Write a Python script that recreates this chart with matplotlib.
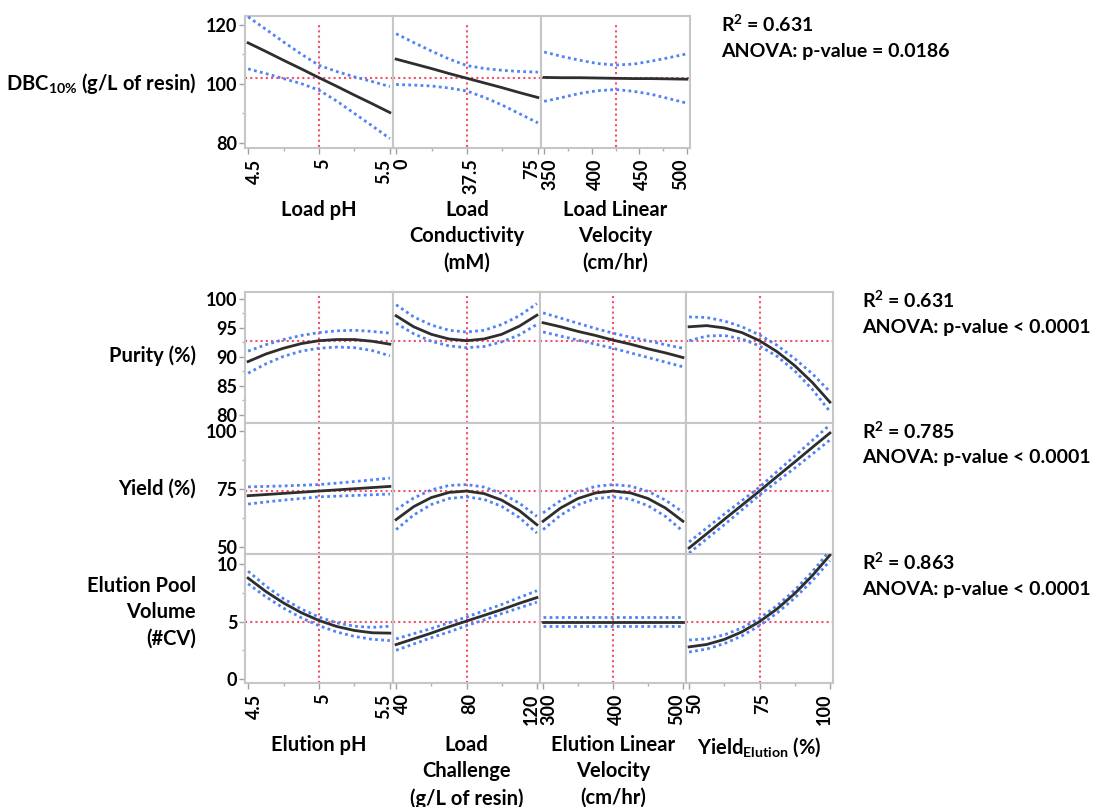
import matplotlib.pyplot as plt
from matplotlib.ticker import FixedLocator
from matplotlib.transforms import ScaledTranslation

# ============================================================
# FONTS / STYLE
# ============================================================
plt.rcParams["font.family"] = ["Lato", "DejaVu Sans"]
plt.rcParams["font.weight"] = "bold"
plt.rcParams["mathtext.fontset"] = "custom"
plt.rcParams["mathtext.rm"] = "Lato:bold"
plt.rcParams["mathtext.it"] = "Lato:bold"
plt.rcParams["mathtext.bf"] = "Lato:bold"

FIG_W, FIG_H = 1095, 807
FIT_COLOR = "#2e2e2e"
CI_COLOR = "#4f82f7"
REF_COLOR = "#f2506a"
FRAME_COLOR = "#c6c6c6"
TICK_FS = 13
LABEL_FS = 14.5
STAT_FS = 14

# ============================================================
# DATA - load step (DBC 10%)
# ============================================================
LOAD_FACTORS = ["Load pH", "Load\nConductivity\n(mM)", "Load Linear\nVelocity\n(cm/hr)"]
LOAD_X = [
    [4.5, 4.625, 4.75, 4.875, 5.0, 5.125, 5.25, 5.375, 5.5],
    [0, 9.375, 18.75, 28.125, 37.5, 46.875, 56.25, 65.625, 75],
    [350, 368.75, 387.5, 406.25, 425, 443.75, 462.5, 481.25, 500],
]
LOAD_CENTER = [5.0, 37.5, 425]
LOAD_TICKS = [[4.5, 5, 5.5], [0, 37.5, 75], [350, 400, 450, 500]]
LOAD_TICKLABELS = [["4.5", "5", "5.5"], ["0", "37.5", "75"], ["350", "400", "450", "500"]]

DBC_FIT = [
    [113.9, 111.0, 108.0, 105.1, 102.1, 99.2, 96.2, 93.3, 90.3],
    [108.4, 106.8, 105.2, 103.5, 101.9, 100.3, 98.7, 97.0, 95.4],
    [102.2, 102.1, 102.1, 102.0, 101.9, 101.8, 101.8, 101.7, 101.6],
]
DBC_UPPER = [
    [122.7, 118.5, 114.2, 110.1, 106.3, 104.2, 102.4, 100.8, 99.1],
    [117.0, 114.0, 111.1, 108.4, 106.2, 105.2, 104.6, 104.2, 104.0],
    [110.8, 109.3, 108.0, 106.9, 106.4, 106.7, 107.7, 108.9, 110.2],
]
DBC_LOWER = [
    [105.1, 103.5, 101.8, 100.1, 97.9, 94.2, 90.0, 85.8, 81.5],
    [99.8, 99.6, 99.3, 98.6, 97.6, 95.4, 92.8, 89.8, 86.8],
    [94.1, 95.4, 96.8, 97.7, 98.1, 97.5, 96.5, 95.0, 93.5],
]
DBC_MEAN = 101.9

# ============================================================
# DATA - elution step (Purity, Yield, Elution Pool Volume)
# ============================================================
ELU_FACTORS = ["Elution pH", "Load\nChallenge\n(g/L of resin)",
               "Elution Linear\nVelocity\n(cm/hr)", r"Yield$_{\mathrm{Elution}}$ (%)"]
ELU_X = [
    [4.5, 4.625, 4.75, 4.875, 5.0, 5.125, 5.25, 5.375, 5.5],
    [40, 50, 60, 70, 80, 90, 100, 110, 120],
    [300, 325, 350, 375, 400, 425, 450, 475, 500],
    [50, 56.25, 62.5, 68.75, 75, 81.25, 87.5, 93.75, 100],
]
ELU_CENTER = [5.0, 80, 400, 75]
ELU_TICKS = [[4.5, 5, 5.5], [40, 80, 120], [300, 400, 500], [50, 75, 100]]
ELU_TICKLABELS = [["4.5", "5", "5.5"], ["40", "80", "120"], ["300", "400", "500"], ["50", "75", "100"]]

PURITY_FIT = [
    [89.2, 90.5, 91.5, 92.3, 92.8, 93.0, 93.0, 92.7, 92.2],
    [97.1, 95.2, 93.9, 93.1, 92.8, 93.1, 93.9, 95.3, 97.2],
    [95.9, 95.2, 94.4, 93.7, 92.9, 92.2, 91.4, 90.7, 89.9],
    [95.2, 95.4, 95.0, 94.2, 92.8, 90.9, 88.5, 85.6, 82.2],
]
PURITY_UPPER = [
    [91.0, 92.1, 93.0, 93.7, 94.2, 94.5, 94.6, 94.4, 94.1],
    [99.0, 96.9, 95.5, 94.6, 94.3, 94.6, 95.6, 97.1, 99.2],
    [97.6, 96.7, 95.8, 94.9, 94.1, 93.4, 92.8, 92.1, 91.5],
    [96.9, 96.8, 96.2, 95.2, 93.8, 92.0, 89.7, 87.1, 84.0],
]
PURITY_LOWER = [
    [87.2, 88.8, 90.1, 91.0, 91.5, 91.7, 91.6, 91.1, 90.2],
    [95.8, 94.0, 92.7, 91.9, 91.6, 91.8, 92.6, 93.8, 95.6],
    [94.3, 93.6, 92.9, 92.2, 91.5, 90.7, 89.9, 89.1, 88.3],
    [92.8, 93.6, 93.7, 93.1, 91.9, 90.1, 87.6, 84.4, 80.6],
]
PURITY_MEAN = 92.8

YIELD_FIT = [
    [72.1, 72.6, 73.1, 73.6, 74.1, 74.6, 75.1, 75.6, 76.1],
    [61.8, 67.4, 71.3, 73.5, 74.1, 73.0, 70.2, 65.7, 59.6],
    [61.1, 66.8, 70.9, 73.3, 74.1, 73.3, 70.9, 66.8, 61.1],
    [49.6, 55.7, 61.9, 68.0, 74.1, 80.4, 86.6, 92.9, 99.1],
]
YIELD_UPPER = [
    [75.9, 76.1, 76.3, 76.6, 76.9, 77.5, 78.2, 78.9, 79.7],
    [66.1, 71.1, 74.6, 76.5, 76.9, 75.8, 73.1, 68.9, 63.2],
    [64.7, 70.0, 73.8, 76.1, 76.9, 76.2, 74.0, 70.2, 65.0],
    [52.2, 58.2, 64.2, 70.0, 75.8, 82.5, 89.2, 95.9, 102.6],
]
YIELD_LOWER = [
    [68.5, 69.4, 70.2, 70.9, 71.6, 71.9, 72.2, 72.5, 72.8],
    [57.5, 63.8, 68.3, 70.9, 71.6, 70.5, 67.5, 62.7, 56.0],
    [57.5, 63.7, 68.2, 70.8, 71.6, 70.6, 67.8, 63.2, 56.8],
    [47.4, 53.5, 59.6, 66.0, 72.4, 78.2, 84.0, 90.0, 96.1],
]
YIELD_MEAN = 74.0

EPV_FIT = [
    [8.8, 7.63, 6.63, 5.78, 5.1, 4.58, 4.23, 4.03, 4.0],
    [3.0, 3.5, 4.0, 4.55, 5.05, 5.55, 6.05, 6.6, 7.1],
    [5.0, 5.0, 5.0, 5.0, 5.0, 5.0, 5.0, 5.0, 5.0],
    [2.8, 3.01, 3.45, 4.11, 5.0, 6.11, 7.45, 9.01, 10.8],
]
EPV_UPPER = [
    [9.4, 8.1, 7.0, 6.1, 5.4, 4.9, 4.6, 4.5, 4.6],
    [3.5, 3.95, 4.4, 4.9, 5.4, 5.95, 6.5, 7.1, 7.7],
    [5.4, 5.4, 5.4, 5.4, 5.4, 5.4, 5.4, 5.4, 5.4],
    [3.4, 3.5, 3.85, 4.45, 5.3, 6.4, 7.75, 9.35, 11.2],
]
EPV_LOWER = [
    [8.3, 7.17, 6.18, 5.34, 4.65, 4.1, 3.71, 3.46, 3.35],
    [2.5, 3.05, 3.6, 4.1, 4.65, 5.15, 5.7, 6.2, 6.7],
    [4.65, 4.65, 4.65, 4.65, 4.65, 4.65, 4.65, 4.65, 4.65],
    [2.35, 2.61, 3.08, 3.76, 4.65, 5.75, 7.06, 8.57, 10.3],
]
EPV_MEAN = 5.0

ROW_LABELS = ["Purity (%)", "Yield (%)", "Elution Pool\nVolume\n(#CV)"]
ROW_YLIM = [(78.6, 101.2), (47.0, 103.4), (-0.35, 10.9)]
ROW_YTICKS = [[80, 85, 90, 95, 100], [50, 75, 100], [0, 5, 10]]
ROW_YMINOR = [[82.5, 87.5, 92.5, 97.5], [62.5, 87.5], [2.5, 7.5]]

STATS_TOP = [r"R$^{\mathrm{2}}$ = 0.631", "ANOVA: p-value = 0.0186"]
STATS_ROWS = [
    [r"R$^{\mathrm{2}}$ = 0.631", "ANOVA: p-value < 0.0001"],
    [r"R$^{\mathrm{2}}$ = 0.785", "ANOVA: p-value < 0.0001"],
    [r"R$^{\mathrm{2}}$ = 0.863", "ANOVA: p-value < 0.0001"],
]

# ============================================================
# HELPERS
# ============================================================
fig = plt.figure(figsize=(FIG_W / 100, FIG_H / 100), dpi=100)


def px_axes(x0, y0, x1, y1):
    """Add axes from pixel box (top-left origin)."""
    return fig.add_axes([x0 / FIG_W, 1 - y1 / FIG_H, (x1 - x0) / FIG_W, (y1 - y0) / FIG_H])


def px_text(x, y, s, **kw):
    return fig.text(x / FIG_W, 1 - y / FIG_H, s, **kw)


def draw_panel(ax, xs, fit, up, lo, center, mean, vspan=(0.0, 1.0)):
    ax.plot(xs, up, color=CI_COLOR, lw=2.0, ls=(0, (1, 1.2)), zorder=3)
    ax.plot(xs, lo, color=CI_COLOR, lw=2.0, ls=(0, (1, 1.2)), zorder=3)
    ax.plot(xs, fit, color=FIT_COLOR, lw=2.0, zorder=4)
    ax.axhline(mean, color=REF_COLOR, lw=1.5, ls=(0, (1, 1.5)), zorder=2)
    ax.axvline(center, ymin=vspan[0], ymax=vspan[1], color=REF_COLOR, lw=1.5,
               ls=(0, (1, 1.5)), zorder=2)
    pad = (xs[-1] - xs[0]) * 0.022
    ax.set_xlim(xs[0] - pad, xs[-1] + pad)
    for sp in ax.spines.values():
        sp.set_color(FRAME_COLOR)
        sp.set_linewidth(1.5)
    ax.tick_params(colors="#a0a0a0", labelcolor="black", length=4, width=1)
    ax.tick_params(which="minor", colors="#b0b0b0", length=2.5, width=1)


def set_xticks(ax, ticks, labels):
    ax.xaxis.set_major_locator(FixedLocator(ticks))
    minor = [(a + b) / 2 for a, b in zip(ticks[:-1], ticks[1:])]
    ax.xaxis.set_minor_locator(FixedLocator(minor))
    ax.set_xticklabels(labels, rotation=90, fontsize=TICK_FS, fontweight="bold")
    # edge labels are pulled inside the panel, inner ones nudged right
    lbls = ax.get_xticklabels()
    for k, lbl in enumerate(lbls):
        if k == 0:
            dx = 0.06
        elif k == len(lbls) - 1:
            dx = -0.06
        else:
            dx = 0.035
        lbl.set_transform(lbl.get_transform() + ScaledTranslation(dx, 0, fig.dpi_scale_trans))


def set_yticks(ax, ticks, minor):
    ax.yaxis.set_major_locator(FixedLocator(ticks))
    ax.yaxis.set_minor_locator(FixedLocator(minor))
    ax.set_yticklabels([str(t) for t in ticks], fontsize=TICK_FS, fontweight="bold")
    ax.tick_params(axis="y", pad=1.5)


# ============================================================
# TOP BLOCK - DBC
# ============================================================
top_cols = [(245, 393), (393, 541), (541, 690)]
for i, (x0, x1) in enumerate(top_cols):
    ax = px_axes(x0, 16, x1, 148)
    draw_panel(ax, LOAD_X[i], DBC_FIT[i], DBC_UPPER[i], DBC_LOWER[i],
               LOAD_CENTER[i], DBC_MEAN, vspan=(0.01, 0.955))
    ax.set_ylim(78.3, 123.0)
    set_xticks(ax, LOAD_TICKS[i], LOAD_TICKLABELS[i])
    if i == 0:
        set_yticks(ax, [80, 100, 120], [90, 110])
    else:
        ax.set_yticks([])
    px_text((x0 + x1) / 2, 200, LOAD_FACTORS[i], ha="center", va="top",
            fontsize=LABEL_FS, fontweight="bold", linespacing=1.4)

px_text(196, 83, r"DBC$_{10\%}$ (g/L of resin)", ha="right", va="center",
        fontsize=LABEL_FS, fontweight="bold")
px_text(721, 24, STATS_TOP[0], ha="left", va="center", fontsize=STAT_FS, fontweight="bold")
px_text(721, 51, STATS_TOP[1], ha="left", va="center", fontsize=STAT_FS, fontweight="bold")

# ============================================================
# BOTTOM BLOCK - Purity / Yield / Elution Pool Volume
# ============================================================
bot_cols = [(245, 393), (393, 540), (540, 686), (686, 833)]
bot_rows = [(292, 423), (423, 554), (554, 683)]
row_fit = [PURITY_FIT, YIELD_FIT, EPV_FIT]
row_up = [PURITY_UPPER, YIELD_UPPER, EPV_UPPER]
row_lo = [PURITY_LOWER, YIELD_LOWER, EPV_LOWER]
row_mean = [PURITY_MEAN, YIELD_MEAN, EPV_MEAN]
row_label_y = [356, 489, 612]

for r, (y0, y1) in enumerate(bot_rows):
    for c, (x0, x1) in enumerate(bot_cols):
        ax = px_axes(x0, y0, x1, y1)
        draw_panel(ax, ELU_X[c], row_fit[r][c], row_up[r][c], row_lo[r][c],
                   ELU_CENTER[c], row_mean[r])
        ax.set_ylim(*ROW_YLIM[r])
        if r == len(bot_rows) - 1:
            set_xticks(ax, ELU_TICKS[c], ELU_TICKLABELS[c])
        else:
            ax.set_xticks([])
        if c == 0:
            set_yticks(ax, ROW_YTICKS[r], ROW_YMINOR[r])
        else:
            ax.set_yticks([])

    px_text(196, row_label_y[r], ROW_LABELS[r], ha="right", va="center",
            fontsize=LABEL_FS, fontweight="bold", linespacing=1.4, multialignment="right")
    px_text(862, y0 + 8, STATS_ROWS[r][0], ha="left", va="center", fontsize=STAT_FS, fontweight="bold")
    px_text(862, y0 + 35, STATS_ROWS[r][1], ha="left", va="center", fontsize=STAT_FS, fontweight="bold")

for c, (x0, x1) in enumerate(bot_cols):
    px_text((x0 + x1) / 2, 735, ELU_FACTORS[c], ha="center", va="top",
            fontsize=LABEL_FS, fontweight="bold", linespacing=1.4)

fig.savefig("out.png", dpi=100)
